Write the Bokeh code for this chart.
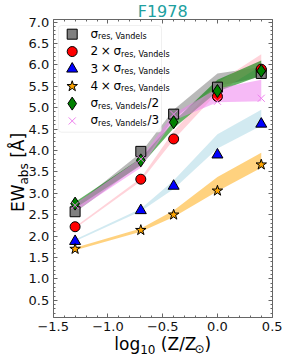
import math
from bokeh.plotting import figure
from bokeh.models import (Range1d, LinearAxis, SingleIntervalTicker, Label,
                          BoxAnnotation, CustomJSTickFormatter)
from bokeh.embed import file_html
from bokeh.resources import INLINE

# ---------------- data ----------------
title_text = "F1978"
metallicity = [-1.3, -0.7, -0.4, 0.0, 0.4]

ew_1x = [2.57, 3.98, 4.85, 5.48, 5.80]
ew_2x = [2.22, 3.33, 4.27, 5.26, 5.90]
ew_3x = [1.88, 2.60, 3.17, 3.90, 4.62]
ew_4x = [1.70, 2.14, 2.50, 3.06, 3.67]
ew_half = [2.76, 3.77, 4.66, 5.39, 5.86]
ew_third = [2.72, 3.80, 4.85, 5.15, 5.22]

band_1x_lo = [2.55, 3.68, 4.75, 5.50, 5.72]
band_1x_hi = [2.72, 3.95, 4.95, 5.80, 5.95]
band_2x_lo = [2.18, 3.28, 4.25, 5.35, 5.98]
band_2x_hi = [2.22, 3.35, 4.45, 5.58, 6.25]
band_3x_lo = [1.88, 2.58, 3.10, 4.05, 4.58]
band_3x_hi = [1.92, 2.64, 3.30, 4.38, 4.95]
band_4x_lo = [1.67, 2.10, 2.45, 3.05, 3.60]
band_4x_hi = [1.73, 2.18, 2.60, 3.38, 3.95]
band_half_lo = [2.65, 3.65, 4.52, 5.38, 5.75]
band_half_hi = [2.80, 3.82, 4.68, 5.65, 6.10]
band_third_lo = [2.58, 3.60, 4.70, 5.13, 5.15]
band_third_hi = [2.75, 3.82, 4.86, 5.45, 5.65]

x_lim = (-1.5, 0.5)
y_lim = (0.1, 7.06)

# ---------------- layout (canvas pixels) ----------------
FONT = "DejaVu Sans"
W, H = 287, 359
BOX_L, BOX_R, BOX_T, BOX_B = 52.7, 271.7, 19.0, 317.0
pxx = (BOX_R - BOX_L) / (x_lim[1] - x_lim[0])
pxy = (BOX_B - BOX_T) / (y_lim[1] - y_lim[0])
x0 = x_lim[0] - BOX_L / pxx
x1 = x_lim[1] + (W - BOX_R) / pxx
y0 = y_lim[0] - (H - BOX_B) / pxy
y1 = y_lim[1] + BOX_T / pxy


def X(px):
    return x0 + px / pxx


def Y(py):
    return y1 - py / pxy


p = figure(width=W, height=H, output_backend="svg", toolbar_location=None,
           x_range=Range1d(x0, x1), y_range=Range1d(y0, y1),
           min_border=0, min_border_left=0, min_border_right=0,
           min_border_top=0, min_border_bottom=0,
           background_fill_color="white", border_fill_color="white")
p.xgrid.visible = False
p.ygrid.visible = False
p.outline_line_color = None

fmt = CustomJSTickFormatter(code="return (tick < 0 ? '\u2212' : '') + Math.abs(tick).toFixed(1);")
blank = CustomJSTickFormatter(code="return '';")

bottom_ax = p.below[0]
left_ax = p.left[0]
top_ax = LinearAxis()
right_ax = LinearAxis()
p.add_layout(top_ax, "above")
p.add_layout(right_ax, "right")

bottom_ax.fixed_location = y_lim[0]
top_ax.fixed_location = y_lim[1]
left_ax.fixed_location = x_lim[0]
right_ax.fixed_location = x_lim[1]

for ax in (bottom_ax, top_ax):
    ax.ticker = SingleIntervalTicker(interval=0.5, num_minor_ticks=5)
    ax.bounds = x_lim
for ax in (left_ax, right_ax):
    ax.ticker = SingleIntervalTicker(interval=0.5, num_minor_ticks=5)
    ax.bounds = y_lim
for ax in (bottom_ax, top_ax, left_ax, right_ax):
    ax.major_tick_in = 4
    ax.major_tick_out = 0
    ax.minor_tick_in = 2
    ax.minor_tick_out = 0
    ax.axis_line_color = "#666666"
    ax.major_tick_line_color = "#666666"
    ax.minor_tick_line_color = "#666666"
    ax.axis_label = None
for ax in (bottom_ax, left_ax):
    ax.formatter = fmt
    ax.major_label_text_font = FONT
    ax.major_label_text_font_size = "13px"
    ax.major_label_text_color = "#111111"
    ax.major_label_standoff = 4
for ax in (top_ax, right_ax):
    ax.formatter = blank
    ax.major_label_text_font_size = "0px"
    ax.major_label_standoff = 0

# ---------------- bands and markers ----------------
series = [
    (ew_1x, band_1x_lo, band_1x_hi, "gray", 0.55, "square", "gray", "black", 10),
    (ew_2x, band_2x_lo, band_2x_hi, "pink", 0.7, "circle", "red", "black", 10),
    (ew_3x, band_3x_lo, band_3x_hi, "lightblue", 0.55, "triangle", "blue", "black", 11),
    (ew_4x, band_4x_lo, band_4x_hi, "orange", 0.5, "star", "orange", "black", 11),
    (ew_half, band_half_lo, band_half_hi, "green", 0.6, "diamond", "green", "black", 13),
    (ew_third, band_third_lo, band_third_hi, "violet", 0.55, "x", "violet", "violet", 10),
]
for vals, lo, hi, bc, ba, m, fc, lc, sz in series:
    p.varea(x=metallicity, y1=lo, y2=hi, fill_color=bc, fill_alpha=ba)
for vals, lo, hi, bc, ba, m, fc, lc, sz in series:
    p.scatter(x=metallicity, y=vals, marker=m, size=sz, fill_color=fc,
              line_color=lc, line_width=1)

# ---------------- text helpers ----------------
ADV = {' ': 0.318, '2': 0.636, '3': 0.636, '4': 0.636, '1': 0.636, '0': 0.636,
       '\u00d7': 0.838, '\u03c3': 0.634, '/': 0.337, 'r': 0.411, 'e': 0.615,
       's': 0.521, ',': 0.318, 'V': 0.684, 'a': 0.613, 'n': 0.634, 'd': 0.635,
       'l': 0.278, 'b': 0.635, 'E': 0.632, 'W': 0.989, '[': 0.390,
       '\u00c5': 0.684, ']': 0.390, 'o': 0.612, 'g': 0.635, '(': 0.390,
       ')': 0.390, 'Z': 0.685, '\u2299': 0.838}
MID = 0.346  # middle of em box above the baseline, in em
SP = 0.318   # width of a space, in em


def tw(t, fs):
    return sum(ADV.get(c, 0.6) for c in t) * fs


def run_width(pieces, mfs, sfs):
    w = 0
    for t, k in pieces:
        if k == "gap":
            w += t * mfs
        else:
            w += tw(t, mfs if k == "m" else sfs)
    return w


def hrun(pieces, start_x, base_y, mfs, sfs, drop, color="black"):
    pos = start_x
    for t, k in pieces:
        if k == "gap":
            pos += t * mfs
            continue
        fs = mfs if k == "m" else sfs
        off = drop if k == "s" else 0
        p.add_layout(Label(x=X(pos), y=Y(base_y + off - MID * fs), text=t,
                           text_font=FONT, text_font_size=f"{fs}px",
                           text_color=color, text_align="left",
                           text_baseline="middle"))
        pos += tw(t, fs)


def vrun(pieces, start_y, base_x, mfs, sfs, drop):
    pos = start_y
    for t, k in pieces:
        if k == "gap":
            pos -= t * mfs
            continue
        fs = mfs if k == "m" else sfs
        off = drop if k == "s" else 0
        p.add_layout(Label(x=X(base_x + off - MID * fs), y=Y(pos), text=t,
                           text_font=FONT, text_font_size=f"{fs}px",
                           text_color="black", text_align="left",
                           text_baseline="middle", angle=math.pi / 2))
        pos -= tw(t, fs)


# title
p.add_layout(Label(x=X((BOX_L + BOX_R) / 2), y=Y(17 - MID * 16), text=title_text,
                   text_font=FONT, text_font_size="16px", text_color="#20a0a0",
                   text_align="center", text_baseline="middle"))

# y-axis label
ylab = [("EW", "m"), ("abs", "s"), (SP, "gap"), ("[\u00c5]", "m")]
ylen = run_width(ylab, 17, 12)
vrun(ylab, 172 + ylen / 2, 23.5, 17, 12, 4)

# x-axis label
xlab = [("log", "m"), ("10", "s"), (SP, "gap"), ("(Z/Z", "m"), (-0.12, "gap"),
        ("\u2299", "s"), (")", "m")]
xlen = run_width(xlab, 17, 12)
hrun(xlab, (BOX_L + BOX_R) / 2 - xlen / 2, 349, 17, 12, 4)

# ---------------- legend ----------------
p.add_layout(BoxAnnotation(left=X(58), right=X(161), top=Y(25), bottom=Y(131.7),
                           fill_color="white", fill_alpha=0.85,
                           line_color="#cccccc", line_width=1, border_radius=3))
SUB = "res, Vandels"
legend_texts = [
    [("\u03c3", "m"), (SUB, "s")],
    [("2", "m"), (0.222, "gap"), ("\u00d7", "m"), (0.222, "gap"), ("\u03c3", "m"), (SUB, "s")],
    [("3", "m"), (0.222, "gap"), ("\u00d7", "m"), (0.222, "gap"), ("\u03c3", "m"), (SUB, "s")],
    [("4", "m"), (0.222, "gap"), ("\u00d7", "m"), (0.222, "gap"), ("\u03c3", "m"), (SUB, "s")],
    [("\u03c3", "m"), (SUB, "s"), ("/2", "m")],
    [("\u03c3", "m"), (SUB, "s"), ("/3", "m")],
]
for i, ((vals, lo, hi, bc, ba, m, fc, lc, sz), pieces) in enumerate(zip(series, legend_texts)):
    cy = 33.7 + 17.35 * i
    r = p.scatter(x=[X(71.7)], y=[Y(cy)], marker=m, size=sz, fill_color=fc,
                  line_color=lc, line_width=1)
    r.level = "overlay"
    hrun(pieces, 90, cy + 3.5, 12, 8, 2)

open("out.html", "w").write(file_html(p, INLINE))
